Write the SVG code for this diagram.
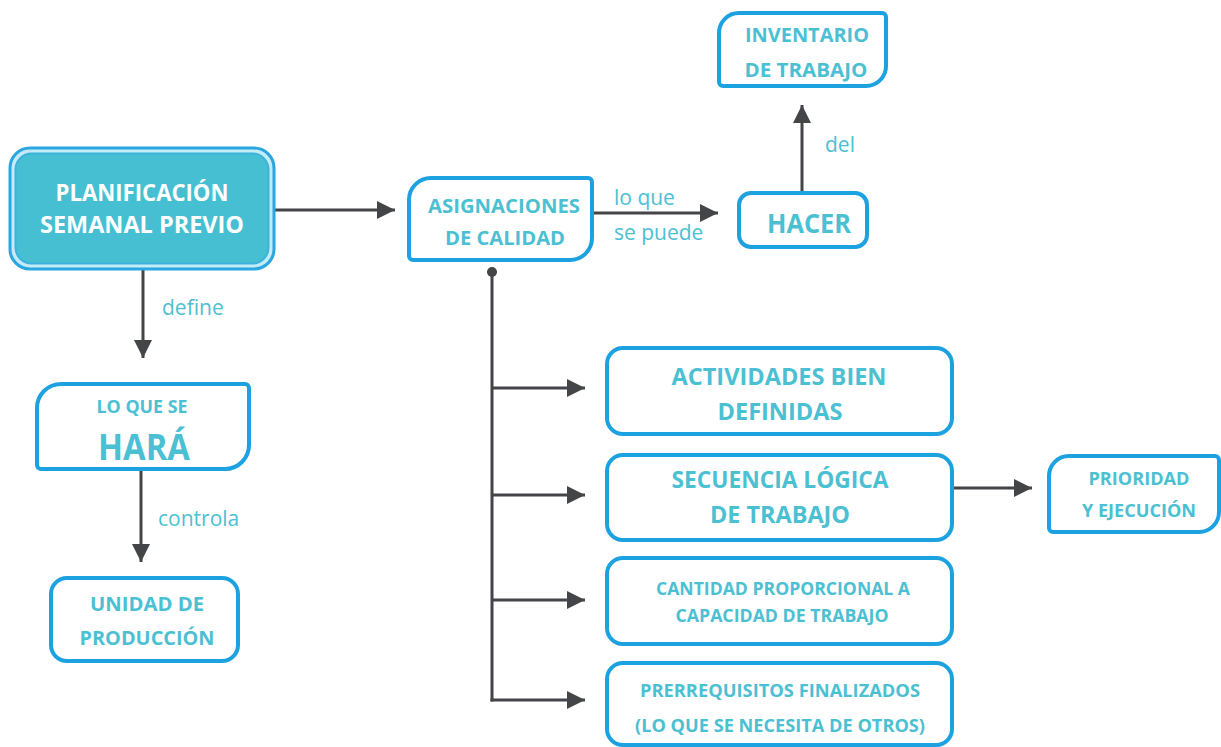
<svg xmlns="http://www.w3.org/2000/svg" width="1221" height="747" viewBox="0 0 1221 747">
  <style>
    .box { fill: #ffffff; stroke: #1ca1e1; stroke-width: 4; }
    .t { font-family: "Open Sans", "Liberation Sans", sans-serif; font-weight: 700; fill: #4cc0d3; text-anchor: middle; }
    .lbl { font-family: "Open Sans", "Liberation Sans", sans-serif; font-weight: 400; fill: #4cc0d3; font-size: 21px; }
    .ln { stroke: #444548; stroke-width: 3; fill: none; }
  </style>
  <defs>
    <marker id="arr" viewBox="0 0 10 10" refX="10" refY="5" markerWidth="6" markerHeight="6" markerUnits="strokeWidth" orient="auto">
      <path d="M0,0 L10,5 L0,10 Z" fill="#444548"/>
    </marker>
  </defs>
  <rect width="1221" height="747" fill="#ffffff"/>

  <g id="connectors">
    <line class="ln" x1="275" y1="210" x2="395" y2="210" marker-end="url(#arr)"/>
    <line class="ln" x1="143" y1="270" x2="143" y2="358" marker-end="url(#arr)"/>
    <line class="ln" x1="141" y1="470" x2="141" y2="562" marker-end="url(#arr)"/>
    <line class="ln" x1="593" y1="213" x2="718" y2="213" marker-end="url(#arr)"/>
    <line class="ln" x1="802" y1="193" x2="802" y2="105" marker-end="url(#arr)"/>
    <circle cx="492" cy="272" r="5" fill="#444548"/>
    <line class="ln" x1="492" y1="272" x2="492" y2="701.5"/>
    <line class="ln" x1="492" y1="388" x2="585" y2="388" marker-end="url(#arr)"/>
    <line class="ln" x1="492" y1="495" x2="585" y2="495" marker-end="url(#arr)"/>
    <line class="ln" x1="492" y1="600" x2="585" y2="600" marker-end="url(#arr)"/>
    <line class="ln" x1="490.5" y1="700" x2="585" y2="700" marker-end="url(#arr)"/>
    <line class="ln" x1="953" y1="488" x2="1032" y2="488" marker-end="url(#arr)"/>
    <text class="lbl" x="162" y="315">define</text>
    <text class="lbl" x="158" y="526">controla</text>
    <text class="lbl" x="614" y="205">lo que</text>
    <text class="lbl" x="614" y="240">se puede</text>
    <text class="lbl" x="825" y="152">del</text>
  </g>

  <g id="planificacion">
    <rect x="10" y="148" width="264" height="121" rx="20" fill="#c4ebf6" stroke="#2aa7e0" stroke-width="3"/>
    <rect x="15.5" y="153.5" width="253" height="110" rx="16" fill="#45bfd1" stroke="#3bb3dc" stroke-width="2"/>
    <text class="t" x="142" y="201" font-size="22.5" style="fill:#ffffff" textLength="173" lengthAdjust="spacingAndGlyphs">PLANIFICACIÓN</text>
    <text class="t" x="142" y="233" font-size="22.5" style="fill:#ffffff" textLength="204" lengthAdjust="spacingAndGlyphs">SEMANAL PREVIO</text>
  </g>

  <g id="asignaciones">
    <path class="box" d="M431,178 H588 A4,4 0 0 1 592,182 V238 A22,22 0 0 1 570,260 H413 A4,4 0 0 1 409,256 V200 A22,22 0 0 1 431,178 Z"/>
    <text class="t" x="504" y="213" font-size="20" textLength="152" lengthAdjust="spacingAndGlyphs">ASIGNACIONES</text>
    <text class="t" x="505" y="245" font-size="20" textLength="120" lengthAdjust="spacingAndGlyphs">DE CALIDAD</text>
  </g>

  <g id="hacer">
    <rect class="box" x="739" y="193" width="128" height="54" rx="12"/>
    <text class="t" x="809" y="233" font-size="27" textLength="84" lengthAdjust="spacingAndGlyphs">HACER</text>
  </g>

  <g id="inventario">
    <path class="box" d="M739,13 H882 A4,4 0 0 1 886,17 V66 A20,20 0 0 1 866,86 H723 A4,4 0 0 1 719,82 V33 A20,20 0 0 1 739,13 Z"/>
    <text class="t" x="807" y="42" font-size="20" textLength="124" lengthAdjust="spacingAndGlyphs">INVENTARIO</text>
    <text class="t" x="806" y="77" font-size="20" textLength="123" lengthAdjust="spacingAndGlyphs">DE TRABAJO</text>
  </g>

  <g id="lo-que-se-hara">
    <path class="box" d="M61,384 H245 A4,4 0 0 1 249,388 V445 A24,24 0 0 1 225,469 H41 A4,4 0 0 1 37,465 V408 A24,24 0 0 1 61,384 Z"/>
    <text class="t" x="142" y="413" font-size="18" textLength="91" lengthAdjust="spacingAndGlyphs">LO QUE SE</text>
    <text class="t" x="144" y="460" font-size="35" textLength="92" lengthAdjust="spacingAndGlyphs">HARÁ</text>
  </g>

  <g id="unidad-produccion">
    <rect class="box" x="51" y="578" width="187" height="83" rx="16"/>
    <text class="t" x="147" y="611" font-size="20" textLength="114" lengthAdjust="spacingAndGlyphs">UNIDAD DE</text>
    <text class="t" x="147" y="645" font-size="20" textLength="135" lengthAdjust="spacingAndGlyphs">PRODUCCIÓN</text>
  </g>

  <g id="actividades">
    <rect class="box" x="607" y="348" width="345" height="86" rx="16"/>
    <text class="t" x="779" y="385" font-size="23" textLength="215" lengthAdjust="spacingAndGlyphs">ACTIVIDADES BIEN</text>
    <text class="t" x="780" y="420" font-size="23" textLength="125" lengthAdjust="spacingAndGlyphs">DEFINIDAS</text>
  </g>

  <g id="secuencia">
    <rect class="box" x="607" y="455" width="345" height="85" rx="16"/>
    <text class="t" x="780" y="488" font-size="23" textLength="217" lengthAdjust="spacingAndGlyphs">SECUENCIA LÓGICA</text>
    <text class="t" x="780" y="523" font-size="23" textLength="140" lengthAdjust="spacingAndGlyphs">DE TRABAJO</text>
  </g>

  <g id="prioridad">
    <path class="box" d="M1069,456 H1215 A4,4 0 0 1 1219,460 V512 A20,20 0 0 1 1199,532 H1053 A4,4 0 0 1 1049,528 V476 A20,20 0 0 1 1069,456 Z"/>
    <text class="t" x="1139" y="485" font-size="18" textLength="101" lengthAdjust="spacingAndGlyphs">PRIORIDAD</text>
    <text class="t" x="1139" y="517" font-size="18" textLength="114" lengthAdjust="spacingAndGlyphs">Y EJECUCIÓN</text>
  </g>

  <g id="cantidad">
    <rect class="box" x="607" y="558" width="345" height="86" rx="16"/>
    <text class="t" x="783" y="595" font-size="17.5" textLength="254" lengthAdjust="spacingAndGlyphs">CANTIDAD PROPORCIONAL A</text>
    <text class="t" x="782" y="622" font-size="17.5" textLength="213" lengthAdjust="spacingAndGlyphs">CAPACIDAD DE TRABAJO</text>
  </g>

  <g id="prerrequisitos">
    <rect class="box" x="607" y="663" width="345" height="82" rx="16"/>
    <text class="t" x="780" y="697" font-size="18" textLength="280" lengthAdjust="spacingAndGlyphs">PRERREQUISITOS FINALIZADOS</text>
    <text class="t" x="780" y="732" font-size="18" textLength="290" lengthAdjust="spacingAndGlyphs">(LO QUE SE NECESITA DE OTROS)</text>
  </g>
</svg>
